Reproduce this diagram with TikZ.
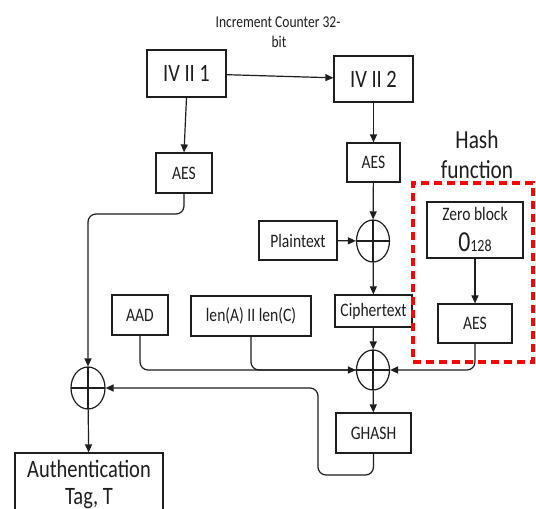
\documentclass[tikz,border=0pt]{standalone}
\usepackage{fontspec}
\setmainfont{Carlito}
\usetikzlibrary{arrows.meta,shapes.geometric}
\newcommand{\sqz}[1]{\scalebox{0.82}[1]{#1}}
\newcommand{\fsm}{\fontsize{19}{22}\selectfont}
\newcommand{\fbg}{\fontsize{25}{28}\selectfont}
\definecolor{ink}{HTML}{1E1E1E}
\definecolor{hashred}{HTML}{FF0000}
\begin{document}
\begin{tikzpicture}[x=1pt,y=-1pt,line width=1.2pt,draw=ink,text=ink,
  arr/.style={-{Triangle[length=8pt,width=7pt]}},
  blk/.style={draw=ink,inner sep=0pt,fill=white},
  xor/.style={draw=ink,ellipse,inner sep=0pt,minimum width=33pt,minimum height=42pt,
    path picture={\draw[ink,line width=1.2pt] (path picture bounding box.north) -- (path picture bounding box.south)
      (path picture bounding box.west) -- (path picture bounding box.east);}},
  lbl/.style={inner sep=0pt,text=ink}]
\useasboundingbox (0,0) rectangle (536,509);
\clip (0,0) rectangle (536,509);
\fill[white] (0,0) rectangle (536,509);

% labels
\node[lbl,font=\fontsize{16.5}{19}\selectfont] (cnt1) at (278,22) {\sqz{Increment Counter 32-}};
\node[lbl,font=\fontsize{16.5}{19}\selectfont] (cnt2) at (279,42) {\sqz{bit}};
\node[lbl,font=\fontsize{26}{29}\selectfont] (hash1) at (477,140) {\sqz{Hash}};
\node[lbl,font=\fontsize{26}{29}\selectfont] (hash2) at (477,170) {\sqz{function}};

% boxes
\node[blk,minimum width=79pt,minimum height=47pt,font=\fbg] (iv1) at (186.5,73.5) {\sqz{IV II 1}};
\node[blk,minimum width=79pt,minimum height=46pt,font=\fbg] (iv2) at (373.5,79) {\sqz{IV II 2}};
\node[blk,minimum width=56pt,minimum height=40pt,font=\fsm] (aes1) at (184,173) {\sqz{AES}};
\node[blk,minimum width=53pt,minimum height=39pt,font=\fsm] (aes2) at (373.5,162.5) {\sqz{AES}};
\node[blk,minimum width=78pt,minimum height=39pt,font=\fsm] (pt) at (298,240.5) {\sqz{Plaintext}};
\node[xor,minimum height=42pt] (x1) at (373,241) {};
\node[blk,minimum width=77pt,minimum height=32pt,font=\fsm] (ct) at (373.5,311) {\sqz{Ciphertext}};
\node[blk,minimum width=56pt,minimum height=40pt,font=\fsm] (aad) at (140,315) {\sqz{AAD}};
\node[blk,minimum width=120pt,minimum height=40pt,font=\fsm] (len) at (251,316) {\sqz{len(A) II len(C)}};
\node[xor,minimum height=40pt] (x2) at (373,370) {};
\node[blk,minimum width=75pt,minimum height=40pt,font=\fsm] (gh) at (373.5,433) {\sqz{GHASH}};
\node[xor,minimum width=34pt,minimum height=42pt] (x3) at (88,388) {};
\node[blk,minimum width=148pt,minimum height=80pt] (auth) at (89,493) {};
\node[lbl,font=\fbg,align=center] (authtxt) at (89,484) {\sqz{Authentication}\\[-1pt]\sqz{Tag, T}};
\node[blk,minimum width=96pt,minimum height=56pt] (zb) at (475,230) {};
\node[lbl,font=\fsm] (zbt) at (475,214) {\sqz{Zero block}};
\node[lbl] (zbn) at (475,242) {\sqz{{\fontsize{29}{30}\selectfont 0}{\fontsize{17}{20}\selectfont 128}}};
\node[blk,minimum width=74pt,minimum height=39pt,font=\fsm] (haes) at (475,323.5) {\sqz{AES}};

% connectors
\coordinate (a1) at (88,214);
\coordinate (g1) at (318,475);
\draw[arr] (iv1) -- (iv2);
\draw[arr] (iv1.south) -- (aes1.north);
\draw[arr] (iv2) -- (aes2);
\draw[arr] (aes2) -- (x1);
\draw[arr] (pt) -- (x1);
\draw[arr] (x1) -- (ct);
\draw[arr] (ct) -- (x2);
\draw[rounded corners=8pt] (len.south) |- (x2.west);
\draw[arr,rounded corners=8pt] (aad.south) |- (x2.west);
\draw[arr,rounded corners=8pt] (haes.south) |- (x2.east);
\draw[arr] (x2) -- (gh);
\draw[arr,rounded corners=8pt] (gh.south) |- (g1) |- (x3.east);
\draw[arr,rounded corners=8pt] (aes1.south) |- (a1) -- (x3.north);
\draw[arr] (x3) -- (auth);
\draw[arr] (zb) -- (haes);

% hash function region
\node[draw=hashred,line width=4pt,dash pattern=on 8pt off 5pt,minimum width=120pt,minimum height=179pt,inner sep=0pt] (hb) at (473,272.5) {};
\end{tikzpicture}
\end{document}
